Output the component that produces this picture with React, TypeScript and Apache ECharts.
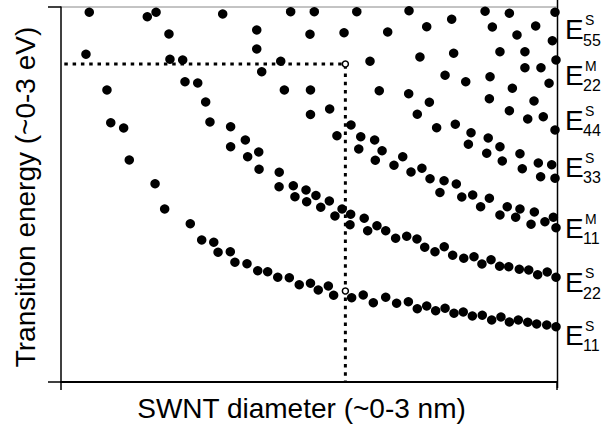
import React, { useEffect, useRef } from "react";
import * as echarts from "echarts";

// Kataura-type plot: [SWNT diameter (nm), transition energy (eV)]
const transitionPoints: [number, number][] = [
  [0.171, 2.958], [0.522, 2.922], [0.575, 2.958], [0.978, 2.944], [1.389, 2.962],
  [0.653, 2.784], [1.184, 2.816], [1.184, 2.664], [1.506, 2.782], [0.151, 2.622],
  [0.659, 2.582], [0.736, 2.576], [1.329, 2.566], [1.214, 2.482], [0.750, 2.402],
  [0.827, 2.392], [0.278, 2.336], [1.351, 2.336], [1.509, 2.336], [0.875, 2.240],
  [1.509, 2.140], [0.301, 2.074], [0.379, 2.032], [0.901, 2.080], [1.026, 2.042],
  [1.026, 1.882], [1.115, 1.936], [1.129, 1.802], [1.196, 1.840], [1.198, 1.702],
  [0.413, 1.776], [1.320, 1.678], [1.319, 1.562], [1.405, 1.570], [1.482, 1.536],
  [1.415, 1.482], [0.569, 1.586], [1.486, 1.442], [0.627, 1.384], [0.782, 1.266],
  [0.851, 1.136], [0.924, 1.118], [0.950, 1.038], [1.024, 1.042], [1.052, 0.958],
  [1.125, 0.946], [1.190, 0.890], [1.250, 0.882], [1.311, 0.838], [1.381, 0.834],
  [1.441, 0.778], [1.509, 0.790], [1.532, 2.962], [1.789, 2.962], [2.105, 2.970],
  [2.565, 2.966], [2.712, 2.950], [2.988, 2.958], [1.712, 2.794], [1.976, 2.800],
  [2.212, 2.842], [2.363, 2.902], [2.609, 2.840], [2.758, 2.776], [2.871, 2.848],
  [2.972, 2.730], [1.869, 2.566], [2.171, 2.600], [2.375, 2.630], [2.655, 2.642],
  [2.806, 2.642], [2.806, 2.514], [2.903, 2.514], [2.994, 2.576], [2.323, 2.454],
  [2.448, 2.402], [2.595, 2.442], [2.730, 2.350], [2.952, 2.390], [1.925, 2.330],
  [2.103, 2.306], [2.228, 2.238], [2.591, 2.266], [2.861, 2.248], [1.625, 2.184],
  [2.155, 2.142], [2.712, 2.170], [2.823, 2.104], [2.917, 2.122], [1.754, 2.056],
  [2.272, 2.034], [2.385, 2.062], [2.988, 2.016], [1.669, 1.970], [1.813, 1.962],
  [1.897, 1.936], [2.480, 1.994], [2.584, 1.952], [1.801, 1.864], [1.942, 1.850],
  [2.464, 1.902], [2.655, 1.882], [1.901, 1.774], [2.067, 1.802], [2.575, 1.830],
  [2.776, 1.826], [2.014, 1.734], [2.183, 1.710], [2.669, 1.768], [2.887, 1.752],
  [2.968, 1.738], [2.117, 1.680], [2.232, 1.626], [2.317, 1.610], [2.391, 1.584],
  [2.790, 1.706], [2.901, 1.642], [2.988, 1.630], [2.292, 1.516], [2.424, 1.480],
  [2.490, 1.496], [2.591, 1.470], [1.542, 1.492], [1.623, 1.448], [1.571, 1.398],
  [1.657, 1.328], [1.700, 1.384], [1.752, 1.342], [1.748, 1.258], [1.834, 1.310],
  [1.855, 1.210], [1.911, 1.250], [1.964, 1.210], [2.024, 1.150], [2.091, 1.166],
  [2.153, 1.144], [2.200, 1.078], [2.262, 1.042], [2.318, 1.082], [2.369, 1.014],
  [2.436, 0.990], [2.498, 1.002], [2.546, 0.944], [2.601, 0.978], [2.653, 0.926],
  [2.708, 0.922], [2.772, 0.902], [2.829, 0.896], [2.883, 0.858], [2.941, 0.880],
  [2.994, 0.838], [2.538, 1.402], [2.655, 1.336], [2.699, 1.402], [2.750, 1.318],
  [2.776, 1.384], [2.863, 1.360], [2.843, 1.262], [2.927, 1.282], [2.978, 1.318],
  [2.994, 1.234], [1.556, 0.736], [1.617, 0.768], [1.649, 0.694], [1.758, 0.674],
  [1.828, 0.696], [1.889, 0.634], [1.964, 0.678], [2.030, 0.630], [2.101, 0.642],
  [2.155, 0.586], [2.212, 0.608], [2.266, 0.570], [2.323, 0.590], [2.377, 0.550],
  [2.433, 0.560], [2.488, 0.528], [2.548, 0.534], [2.605, 0.496], [2.661, 0.520],
  [2.712, 0.480], [2.766, 0.496], [2.823, 0.478], [2.877, 0.464], [2.938, 0.456],
  [2.994, 0.442],
];

// dotted guide: laser energy line and selected diameter
const guidePath: [number, number][] = [
  [0.02, 2.544],
  [1.72, 2.544],
  [1.72, 0],
];
const resonanceMarks: [number, number][] = [
  [1.72, 2.544],
  [1.72, 0.728],
];

// right-hand transition labels: [main, superscript, subscript]
const transitionLabels: [string, string, string][] = [
  ["E", "S", "55"],
  ["E", "M", "22"],
  ["E", "S", "44"],
  ["E", "S", "33"],
  ["E", "M", "11"],
  ["E", "S", "22"],
  ["E", "S", "11"],
];

const xTitle = "SWNT diameter (~0-3 nm)";
const yTitle = "Transition energy (~0-3 eV)";

const FONT = 'Arial, "Liberation Sans", Helvetica, sans-serif';

export default function App() {
  const ref = useRef<HTMLDivElement | null>(null);

  useEffect(() => {
    if (!ref.current) return;
    const chart = echarts.init(ref.current, undefined, { renderer: "svg" });

    const labelCenters = [29.5, 75, 120, 167, 228, 282.5, 335];
    const labelGraphics: any[] = [];
    transitionLabels.forEach(([main, sup, sub], i) => {
      const c = labelCenters[i];
      labelGraphics.push({
        type: "text",
        x: 565,
        y: c,
        style: { text: main, fontSize: 28, fontFamily: FONT, fill: "#000", align: "left", verticalAlign: "middle" },
      });
      labelGraphics.push({
        type: "text",
        x: 585,
        y: c - 9.5,
        style: { text: sup, fontSize: 14, fontFamily: FONT, fill: "#000", align: "left", verticalAlign: "middle" },
      });
      labelGraphics.push({
        type: "text",
        x: 583,
        y: c + 10.5,
        style: { text: sub, fontSize: 16, fontFamily: FONT, fill: "#000", align: "left", verticalAlign: "middle" },
      });
    });

    chart.setOption({
      animation: false,
      backgroundColor: "#fff",
      grid: { left: 61, right: 44, top: 7, bottom: 46, containLabel: false },
      xAxis: {
        type: "value",
        min: 0,
        max: 3,
        interval: 3,
        axisLine: { show: true, lineStyle: { color: "#000", width: 2 } },
        axisTick: { show: true, inside: false, length: 8, lineStyle: { color: "#000", width: 1.5 } },
        axisLabel: { show: false },
        splitLine: { show: false },
      },
      yAxis: {
        type: "value",
        min: 0,
        max: 3,
        interval: 3,
        axisLine: { show: true, lineStyle: { color: "#000", width: 1.5 } },
        axisTick: { show: true, inside: false, length: 13, lineStyle: { color: "#000", width: 1.5 } },
        axisLabel: { show: false },
        splitLine: { show: false },
      },
      series: [
        {
          type: "line",
          data: guidePath,
          symbol: "none",
          lineStyle: { color: "#000", width: 3, type: [3.5, 4.8] },
          z: 1,
        },
        {
          type: "scatter",
          data: transitionPoints,
          symbol: "circle",
          symbolSize: 9.5,
          itemStyle: { color: "#000", opacity: 1 },
          z: 3,
        },
        {
          type: "scatter",
          data: resonanceMarks,
          symbol: "circle",
          symbolSize: 6,
          itemStyle: { color: "#fff", borderColor: "#000", borderWidth: 1.5, opacity: 1 },
          z: 4,
        },
      ],
      graphic: [
        {
          type: "line",
          shape: { x1: 557.5, y1: 0, x2: 557.5, y2: 388 },
          style: { stroke: "#000", lineWidth: 1.5 },
        },
        {
          type: "line",
          shape: { x1: 61, y1: 7, x2: 557, y2: 7 },
          style: { stroke: "#888", lineWidth: 1 },
        },
        {
          type: "text",
          x: 301.5,
          y: 408,
          style: { text: xTitle, fontSize: 28, fontFamily: FONT, fill: "#000", align: "center", verticalAlign: "middle" },
        },
        {
          type: "text",
          x: 25,
          y: 197,
          rotation: Math.PI / 2,
          style: { text: yTitle, fontSize: 28, fontFamily: FONT, fill: "#000", align: "center", verticalAlign: "middle" },
        },
        ...labelGraphics,
      ],
    });

    return () => chart.dispose();
  }, []);

  return (
    <div
      ref={ref}
      style={{ position: "absolute", left: 0, top: 0, width: 601, height: 428 }}
    />
  );
}
